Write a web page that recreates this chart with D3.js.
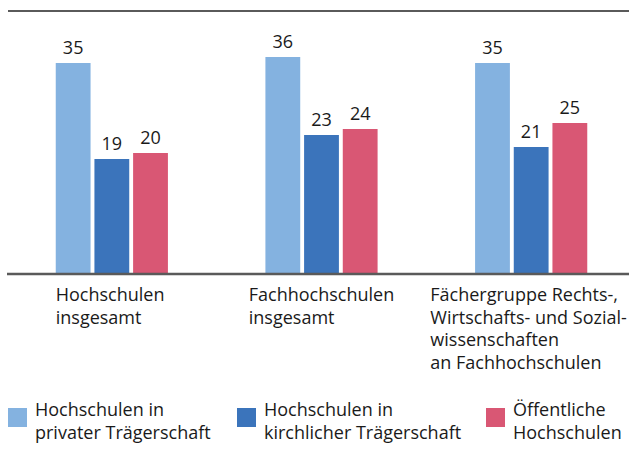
<!DOCTYPE html>
<html>
<head>
<meta charset="utf-8">
<script src="https://cdn.jsdelivr.net/npm/d3@7"></script>
<style>
  body { margin: 0; background: #fff; }
  text { font-family: "Open Sans", "Noto Sans", sans-serif; fill: #1a1a1a; font-stretch: 93%; }
</style>
</head>
<body>
<script>
// categories (each as lines of text)
var categories = ["hs", "fh", "rws"];
var categoryLines = [
    ["Hochschulen", "insgesamt"],
    ["Fachhochschulen", "insgesamt"],
    ["Fächergruppe Rechts-,", "Wirtschafts- und Sozial-", "wissenschaften", "an Fachhochschulen"]
];
var series = ["privat", "kirchlich", "oeffentlich"];
var seriesLabels = [
    ["Hochschulen in", "privater Trägerschaft"],
    ["Hochschulen in", "kirchlicher Trägerschaft"],
    ["Öffentliche", "Hochschulen"]
];
var privatValues = [35, 36, 35];
var kirchlichValues = [19, 23, 21];
var oeffentlichValues = [20, 24, 25];

var colors = ["#84b2e0", "#3b74bb", "#d95774"];

var width = 629,
    height = 455,
    fontSize = "18px";

var svg = d3.select("body").append("svg")
    .attr("width", width)
    .attr("height", height);

var x0 = d3.scaleBand()
    .domain(categories)
    .range([7, 636])
    .paddingInner(0.465)
    .paddingOuter(0.2325);

var x1 = d3.scaleBand()
    .domain(series)
    .range([0, x0.bandwidth()])
    .paddingInner(0.1);

var y = d3.scaleLinear()
    .domain([0, 36])
    .range([273, 57]);

var color = d3.scaleOrdinal()
    .domain(series)
    .range(colors);

var data = categories.map(function (c, i) {
    return {
        cat: c,
        values: [
            { key: "privat", value: privatValues[i] },
            { key: "kirchlich", value: kirchlichValues[i] },
            { key: "oeffentlich", value: oeffentlichValues[i] }
        ]
    };
});

// top rule
svg.append("line")
    .attr("x1", 8).attr("x2", width)
    .attr("y1", 11).attr("y2", 11)
    .attr("stroke", "#5a5a5a")
    .attr("stroke-width", 2);

var groups = svg.selectAll(".group")
    .data(data)
    .enter().append("g")
    .attr("class", "group")
    .attr("transform", function (d) { return "translate(" + x0(d.cat) + ",0)"; });

groups.selectAll("rect")
    .data(function (d) { return d.values; })
    .enter().append("rect")
    .attr("x", function (d) { return x1(d.key); })
    .attr("y", function (d) { return y(d.value); })
    .attr("width", x1.bandwidth())
    .attr("height", function (d) { return y(0) - y(d.value); })
    .attr("fill", function (d) { return color(d.key); });

groups.selectAll(".val")
    .data(function (d) { return d.values; })
    .enter().append("text")
    .attr("class", "val")
    .attr("x", function (d) { return x1(d.key) + x1.bandwidth() / 2; })
    .attr("y", function (d) { return y(d.value) - 9; })
    .attr("text-anchor", "middle")
    .style("font-size", fontSize)
    .text(function (d) { return d.value; });

// baseline
svg.append("line")
    .attr("x1", 7).attr("x2", width)
    .attr("y1", y(0) + 1).attr("y2", y(0) + 1)
    .attr("stroke", "#5a5a5a")
    .attr("stroke-width", 2.5);

// category labels: block centred under the group, lines left aligned
var catText = groups.append("text")
    .attr("class", "cat")
    .style("font-size", fontSize);

catText.selectAll("tspan")
    .data(function (d, i) { return categoryLines[i]; })
    .enter().append("tspan")
    .attr("x", 0)
    .attr("y", function (d, i) { return 301 + i * 22.7; })
    .text(function (d) { return d; });

catText.each(function (d) {
    var bb = this.getBBox();
    var shift = Math.min(x0.bandwidth() / 2 - bb.width / 2, 0);
    // keep the block inside the picture
    shift = Math.min(shift, width - 2 - x0(d.cat) - bb.width);
    d3.select(this).attr("transform", "translate(" + shift + ",0)");
});

// legend
var legendX = [8, 237, 486];
var legend = svg.selectAll(".legend")
    .data(series)
    .enter().append("g")
    .attr("class", "legend")
    .attr("transform", function (d, i) { return "translate(" + legendX[i] + ",0)"; });

legend.append("rect")
    .attr("x", 0)
    .attr("y", 408)
    .attr("width", 19)
    .attr("height", 19)
    .attr("fill", function (d) { return color(d); });

legend.append("text")
    .style("font-size", fontSize)
    .selectAll("tspan")
    .data(function (d, i) { return seriesLabels[i]; })
    .enter().append("tspan")
    .attr("x", 27)
    .attr("y", function (d, i) { return 416 + i * 23; })
    .text(function (d) { return d; });
</script>
</body>
</html>
